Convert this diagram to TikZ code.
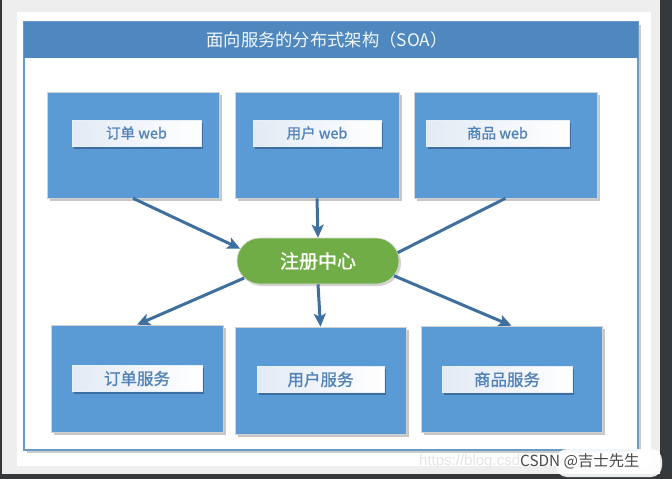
\documentclass[tikz,border=0pt]{standalone}
\usepackage{fontspec}
\setmainfont{Noto Sans CJK SC}
\newfontfamily\cjkbold[FakeBold=1.2]{Noto Sans CJK SC}
\newfontfamily\wmfont{Liberation Sans}
\usetikzlibrary{shapes.misc,shadows,arrows.meta}
\definecolor{boxblue}{HTML}{5B9BD5}
\definecolor{framebl}{HTML}{4F88BE}
\definecolor{arrowbl}{HTML}{3F6F9E}
\definecolor{regreen}{HTML}{70AD47}
\definecolor{labeltxt}{HTML}{5283B8}
\definecolor{labshadow}{HTML}{3A6796}
\definecolor{lableft}{HTML}{E3EAF5}
\definecolor{darkbg}{HTML}{35393C}
\definecolor{lightbg}{HTML}{EEEEEE}
\begin{document}
\begin{tikzpicture}[x=1pt,y=-1pt,
  bigbox/.style={draw=black!18, line width=0.6pt, fill=boxblue, inner sep=0pt,
    drop shadow={shadow xshift=2.5pt, shadow yshift=-2.5pt, fill=black!55, opacity=0.4}},
  labelbox/.style={left color=lableft, right color=white, draw=white!85!boxblue, line width=0.4pt,
    minimum height=26pt, inner sep=0pt, text=labeltxt,
    drop shadow={shadow xshift=2pt, shadow yshift=-2.5pt, fill=labshadow, opacity=0.85}},
  weblab/.style={labelbox, font=\cjkbold\fontsize{14.5}{16}\selectfont},
  svclab/.style={labelbox, font=\cjkbold\fontsize{16.5}{18}\selectfont},
  arr/.style={draw=arrowbl, line width=3pt, -{Stealth[length=13pt,width=12pt,inset=3pt]}},
  plainline/.style={draw=arrowbl, line width=3pt}
]
\useasboundingbox (0,0) rectangle (672,479);
% backgrounds
\fill[darkbg] (0,0) rectangle (672,479);
\fill[lightbg] (2,0) rectangle (660,474);
\fill[white] (17,12) rectangle (651,466);
% frame
\path[fill=white, draw=framebl!85, line width=1.2pt,
  drop shadow={shadow xshift=2.5pt, shadow yshift=-2.5pt, fill=black!50, opacity=0.4}]
  (24,22) rectangle (638,450);
\fill[framebl] (24,22) rectangle (638,58);
\node[text=white!92!boxblue, font=\fontsize{17.3}{19}\selectfont, inner sep=0pt] (title) at (327,40) {面向服务的分布式架构（SOA）};

% top row
\node[bigbox, minimum width=172pt, minimum height=106pt] (w1) at (133,145) {};
\node[bigbox, minimum width=164pt, minimum height=106pt] (w2) at (317,145) {};
\node[bigbox, minimum width=183pt, minimum height=106pt] (w3) at (505.5,145) {};
\node[weblab, minimum width=129pt] (l1) at (136.5,133) {订单 web};
\node[weblab, minimum width=128pt] (l2) at (317,133) {用户 web};
\node[weblab, minimum width=143pt] (l3) at (497.5,133) {商品 web};

% bottom row
\node[bigbox, minimum width=172pt, minimum height=107pt] (s1) at (137,378.5) {};
\node[bigbox, minimum width=171pt, minimum height=107pt] (s2) at (320.5,380.5) {};
\node[bigbox, minimum width=181pt, minimum height=106pt] (s3) at (511.5,379) {};
\node[svclab, minimum width=130pt] (m1) at (137,378.5) {订单服务};
\node[svclab, minimum width=127pt] (m2) at (320.5,379.5) {用户服务};
\node[svclab, minimum width=130pt] (m3) at (507,379.5) {商品服务};

% registry
\node[rounded rectangle, fill=regreen, draw=black!15, line width=0.6pt,
  minimum width=162pt, minimum height=46pt, inner sep=0pt, text=white,
  font=\cjkbold\fontsize{19}{21}\selectfont,
  drop shadow={shadow xshift=2pt, shadow yshift=-2pt, fill=black!50, opacity=0.35}]
  (reg) at (318,261) {注册中心};

% connectors
\draw[arr] (w1.south) -- (reg.171);
\draw[arr] (w2.south) -- (reg.north);
\draw[plainline] (w3.south) -- (reg.6);
\draw[arr] (reg.193) -- (s1.north);
\draw[arr] (reg.south) -- (s2.north);
\draw[arr] (reg.-11) -- (s3.north);

% watermark
\node[text=white!80!gray, font=\wmfont\fontsize{15}{15}\selectfont, anchor=west, inner sep=0pt] (url) at (419,462) {https://blog.csd};
\fill[white, opacity=0.9, rounded corners=11pt] (556,449) rectangle (662,477);
\node[text=black!72, font=\fontsize{15.3}{15}\selectfont, anchor=west, inner sep=0pt] (csdn) at (520,461) {CSDN @吉士先生};
\end{tikzpicture}
\end{document}
